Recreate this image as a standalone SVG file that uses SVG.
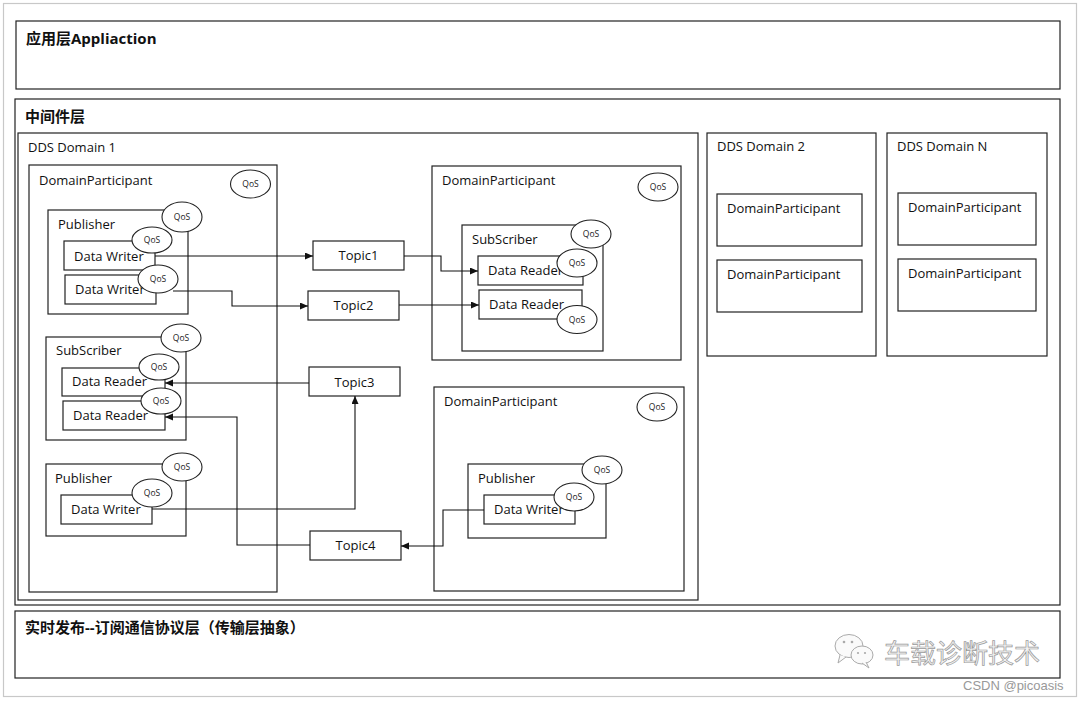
<svg xmlns="http://www.w3.org/2000/svg" width="1080" height="701" viewBox="0 0 1080 701">
<style>
.box{fill:none;stroke:#222;stroke-width:1.2}
.wbox{fill:#fff;stroke:#222;stroke-width:1.2}
.qos{fill:#fff;stroke:#222;stroke-width:1.1}
.t{font-family:"Open Sans","Noto Sans",sans-serif;font-size:13px;fill:#111}
.q{font-family:"Open Sans","Noto Sans",sans-serif;font-size:8.5px;fill:#222;text-anchor:middle}
.h{font-family:"Open Sans","Noto Sans CJK SC",sans-serif;font-size:15px;font-weight:bold;fill:#111}
.tc{text-anchor:middle}
.c{fill:none;stroke:#111;stroke-width:1.1}
</style>
<defs>
<marker id="arr" markerUnits="userSpaceOnUse" markerWidth="9" markerHeight="8" refX="8" refY="3.5" orient="auto">
<path d="M0,0 L8,3.5 L0,7 z" fill="#111"/>
</marker>
</defs>
<rect x="0" y="0" width="1080" height="701" fill="#fff"/>
<rect x="3.5" y="3.5" width="1073" height="693" fill="none" stroke="#c8c8c8" stroke-width="1.2"/>

<g id="app-layer">
<rect class="box" x="16" y="21" width="1044" height="68"/>
<text class="h" x="26" y="44">应用层Appliaction</text>
</g>

<g id="middleware-layer">
<rect class="box" x="15" y="99" width="1045" height="506"/>
<text class="h" x="25" y="122">中间件层</text>
</g>

<g id="dds-domain-1">
<rect class="box" x="18" y="133" width="680" height="467"/>
<text class="t" x="28" y="152">DDS Domain 1</text>
</g>

<g id="dp1">
<rect class="box" x="29" y="165" width="248" height="427"/>
<text class="t" x="39" y="185">DomainParticipant</text>
<ellipse class="qos" cx="250.5" cy="184" rx="20" ry="14"/>
<text class="q" x="250.5" y="187">QoS</text>
</g>

<g id="publisher1">
<rect class="box" x="48" y="210" width="140" height="104"/>
<text class="t" x="58" y="229">Publisher</text>
<ellipse class="qos" cx="182" cy="217" rx="20" ry="15"/>
<text class="q" x="182" y="220">QoS</text>
</g>

<g id="writer1">
<rect class="box" x="64" y="241" width="91" height="29"/>
<text class="t" x="74" y="261">Data Writer</text>
<ellipse class="qos" cx="152" cy="240" rx="20" ry="13"/>
<text class="q" x="152" y="243">QoS</text>
</g>

<g id="writer2">
<rect class="box" x="65" y="275" width="91" height="29"/>
<text class="t" x="75" y="294">Data Writer</text>
<ellipse class="qos" cx="158" cy="279" rx="20" ry="14"/>
<text class="q" x="158" y="282">QoS</text>
</g>

<g id="subscriber1">
<rect class="box" x="46" y="337" width="140" height="103"/>
<text class="t" x="56" y="355">SubScriber</text>
<ellipse class="qos" cx="181" cy="338" rx="20" ry="14"/>
<text class="q" x="181" y="341">QoS</text>
</g>

<g id="reader1">
<rect class="box" x="62" y="368" width="103" height="28"/>
<text class="t" x="72" y="386">Data Reader</text>
<ellipse class="qos" cx="159" cy="367" rx="20" ry="13"/>
<text class="q" x="159" y="370">QoS</text>
</g>

<g id="reader2">
<rect class="box" x="63" y="401" width="102" height="29"/>
<text class="t" x="73" y="420">Data Reader</text>
<ellipse class="qos" cx="161" cy="401" rx="20" ry="13"/>
<text class="q" x="161" y="404">QoS</text>
</g>

<g id="publisher2">
<rect class="box" x="46" y="464" width="140" height="72"/>
<text class="t" x="55" y="483">Publisher</text>
<ellipse class="qos" cx="182" cy="467" rx="20" ry="14"/>
<text class="q" x="182" y="470">QoS</text>
</g>

<g id="writer3">
<rect class="box" x="61" y="495" width="91" height="29"/>
<text class="t" x="71" y="514">Data Writer</text>
<ellipse class="qos" cx="152" cy="493" rx="20" ry="14"/>
<text class="q" x="152" y="496">QoS</text>
</g>

<g id="topic1">
<rect class="box" x="313" y="241" width="91" height="29"/>
<text class="t tc" x="358.5" y="260">Topic1</text>
</g>
<g id="topic2">
<rect class="box" x="308" y="291" width="91" height="29"/>
<text class="t tc" x="353.5" y="310">Topic2</text>
</g>
<g id="topic3">
<rect class="box" x="309" y="367" width="91" height="29"/>
<text class="t tc" x="354.5" y="386.5">Topic3</text>
</g>
<g id="topic4">
<rect class="box" x="310" y="531" width="91" height="29"/>
<text class="t tc" x="355.5" y="550">Topic4</text>
</g>

<g id="dp2">
<rect class="box" x="432" y="166" width="249" height="194"/>
<text class="t" x="442" y="185">DomainParticipant</text>
<ellipse class="qos" cx="658" cy="187" rx="20" ry="14"/>
<text class="q" x="658" y="190">QoS</text>
</g>

<g id="subscriber2">
<rect class="box" x="462" y="225" width="141" height="126"/>
<text class="t" x="472" y="244">SubScriber</text>
<ellipse class="qos" cx="591" cy="234" rx="20" ry="14"/>
<text class="q" x="591" y="237">QoS</text>
</g>

<g id="reader3">
<rect class="box" x="478" y="256" width="105" height="29"/>
<text class="t" x="488" y="275">Data Reader</text>
<ellipse class="qos" cx="577" cy="263" rx="20" ry="14"/>
<text class="q" x="577" y="266">QoS</text>
</g>

<g id="reader4">
<rect class="box" x="479" y="290" width="103" height="29"/>
<text class="t" x="489" y="309">Data Reader</text>
<ellipse class="qos" cx="577" cy="319.5" rx="20" ry="14"/>
<text class="q" x="577" y="322.5">QoS</text>
</g>

<g id="dp3">
<rect class="box" x="434" y="387" width="250" height="204"/>
<text class="t" x="444" y="406">DomainParticipant</text>
<ellipse class="qos" cx="657" cy="407" rx="20" ry="14"/>
<text class="q" x="657" y="410">QoS</text>
</g>

<g id="publisher3">
<rect class="box" x="468" y="464" width="138" height="74"/>
<text class="t" x="478" y="483">Publisher</text>
<ellipse class="qos" cx="602" cy="470" rx="20" ry="14"/>
<text class="q" x="602" y="473">QoS</text>
</g>

<g id="writer4">
<rect class="box" x="484" y="495" width="91" height="29"/>
<text class="t" x="494" y="514">Data Writer</text>
<ellipse class="qos" cx="574" cy="497" rx="20" ry="14"/>
<text class="q" x="574" y="500">QoS</text>
</g>

<g id="dds-domain-2">
<rect class="box" x="707" y="133" width="169" height="223"/>
<text class="t" x="717" y="151">DDS Domain 2</text>
<rect class="box" x="717" y="194" width="145" height="52"/>
<text class="t" x="727" y="213">DomainParticipant</text>
<rect class="box" x="717" y="260" width="145" height="52"/>
<text class="t" x="727" y="279">DomainParticipant</text>
</g>

<g id="dds-domain-n">
<rect class="box" x="887" y="133" width="160" height="223"/>
<text class="t" x="897" y="151">DDS Domain N</text>
<rect class="box" x="898" y="193" width="138" height="52"/>
<text class="t" x="908" y="212">DomainParticipant</text>
<rect class="box" x="898" y="259" width="138" height="52"/>
<text class="t" x="908" y="278">DomainParticipant</text>
</g>

<g id="rtps-layer">
<rect class="box" x="15" y="611" width="1045" height="67"/>
<text class="h" x="25" y="633">实时发布--订阅通信协议层（传输层抽象）</text>
</g>

<g id="connectors">
<path class="c" d="M155,256 H313" marker-end="url(#arr)"/>
<path class="c" d="M173,291 H232 V306 H308" marker-end="url(#arr)"/>
<path class="c" d="M404,256 H441 V271 H478" marker-end="url(#arr)"/>
<path class="c" d="M399,305 H479" marker-end="url(#arr)"/>
<path class="c" d="M309,383 H165" marker-end="url(#arr)"/>
<path class="c" d="M310,545 H237 V417 H165" marker-end="url(#arr)"/>
<path class="c" d="M152,509 H355 V396" marker-end="url(#arr)"/>
<path class="c" d="M484,510 H443 V546 H401" marker-end="url(#arr)"/>
</g>

<g id="watermark">
<ellipse cx="849" cy="646" rx="14" ry="11.5" fill="#fafafa" stroke="#aaa" stroke-width="1"/>
<path d="M840,655 L838,663 L846,657" fill="#fafafa" stroke="#aaa" stroke-width="1"/>
<ellipse cx="862" cy="655" rx="11" ry="9" fill="#fafafa" stroke="#aaa" stroke-width="1"/>
<path d="M866,662 L869,668 L862,663" fill="#fafafa" stroke="#aaa" stroke-width="1"/>
<circle cx="844" cy="642" r="1.3" fill="#aaa"/>
<circle cx="852" cy="642" r="1.3" fill="#aaa"/>
<circle cx="858" cy="653" r="1.1" fill="#aaa"/>
<circle cx="865" cy="653" r="1.1" fill="#aaa"/>
<text x="884" y="663" font-family="'Noto Sans CJK SC',sans-serif" font-size="26" fill="#f2f2f2" stroke="#9a9a9a" stroke-width="0.7">车载诊断技术</text>
<text x="963" y="690" font-family="'Liberation Sans',Arial,sans-serif" font-size="13" fill="#999">CSDN @picoasis</text>
</g>
</svg>
